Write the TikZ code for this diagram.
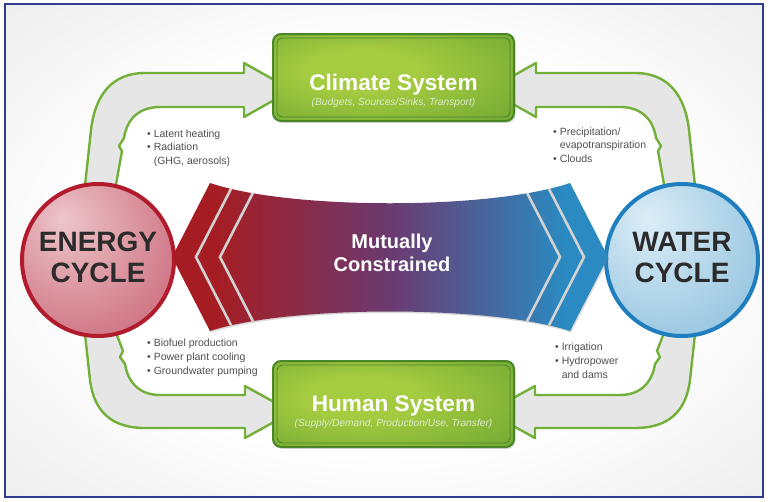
\documentclass[tikz,border=0pt]{standalone}
\usepackage{fontspec}
\setmainfont{Liberation Sans}
\usetikzlibrary{calc,shadows}
\definecolor{framecol}{HTML}{2E3D8F}
\definecolor{bggray}{HTML}{C8C8C8}
\definecolor{bggraytwo}{HTML}{DCDCDC}
\definecolor{arrowgreen}{HTML}{72B03A}
\definecolor{arrowfill}{HTML}{E6E6E6}
\definecolor{boxdark}{HTML}{4A8628}
\definecolor{boxlight}{HTML}{A5CB40}
\definecolor{boxmid}{HTML}{629E30}
\definecolor{redborder}{HTML}{B11B2C}
\definecolor{pinklight}{HTML}{EDC6CA}
\definecolor{pinkdark}{HTML}{C4566A}
\definecolor{blueborder}{HTML}{1F7EBE}
\definecolor{bluelight}{HTML}{DDEEF7}
\definecolor{bluedark}{HTML}{80B8D9}
\definecolor{bandred}{HTML}{A51D23}
\definecolor{bandpurple}{HTML}{6B3A70}
\definecolor{bandblue}{HTML}{2A8AC1}
\definecolor{textgray}{HTML}{2B2B2B}
\definecolor{bullgray}{HTML}{505050}
\definecolor{subwhite}{HTML}{DCEAC8}
\definecolor{sepgray}{HTML}{D2D2D2}
\pgfdeclareradialshading{vignette}{\pgfpoint{0bp}{0bp}}{color(0bp)=(white); color(20bp)=(white); color(52bp)=(bggraytwo); color(71bp)=(bggray)}
\pgfdeclarehorizontalshading{bandshade}{100bp}{color(0bp)=(bandred); color(30bp)=(bandred); color(50bp)=(bandpurple); color(70bp)=(bandblue); color(100bp)=(bandblue)}
\pgfdeclareradialshading{pinkball}{\pgfpoint{-12bp}{14bp}}{color(0bp)=(pinklight); color(48bp)=(pinkdark); color(72bp)=(pinkdark)}
\pgfdeclareradialshading{blueball}{\pgfpoint{-12bp}{14bp}}{color(0bp)=(bluelight); color(48bp)=(bluedark); color(72bp)=(bluedark)}
\pgfdeclareradialshading{boxshade}{\pgfpoint{-8bp}{5bp}}{color(0bp)=(boxlight); color(12bp)=(boxlight); color(48bp)=(boxmid); color(72bp)=(boxdark)}
\begin{document}
\begin{tikzpicture}[x=1pt,y=-1pt,
  arrowshape/.style={fill=arrowfill, draw=arrowgreen, line width=2.4pt, line join=round},
  greenbox/.style={rectangle, rounded corners=8pt, draw=boxdark, line width=2pt, shading=boxshade, inner sep=0pt, drop shadow={opacity=0.25, shadow xshift=1.5pt, shadow yshift=-2pt}},
  insetline/.style={draw=boxdark, line width=0.9pt, rounded corners=5pt},
  cyclecirc/.style={circle, minimum size=152pt, inner sep=0pt, line width=4pt},
  circtext/.style={anchor=base, text=textgray, font=\fontsize{28}{28}\selectfont\bfseries, inner sep=0pt},
  titletext/.style={anchor=base, text=white, font=\fontsize{22.6}{22.6}\selectfont\bfseries, inner sep=0pt},
  subtext/.style={anchor=base, text=subwhite, font=\fontsize{10.2}{10.2}\selectfont\itshape, inner sep=0pt},
  bandtext/.style={anchor=base, text=white, font=\fontsize{20}{20}\selectfont\bfseries, inner sep=0pt},
  bultext/.style={anchor=base west, text=bullgray, font=\fontsize{10.5}{10.5}\selectfont, inner sep=0pt},
  sepline/.style={draw=sepgray, line width=2.6pt, line join=miter}
]
\useasboundingbox (0,0) rectangle (768,501);
\fill[white] (0,0) rectangle (768,501);
\shade[shading=vignette] (5,4) rectangle (763,497);
\draw[framecol, line width=1.5pt] (5,4) rectangle (763,497);

% gray arrows
\draw[arrowshape] (84,195) -- (91,130) .. controls (95,95) and (112,73) .. (145,73) -- (244,73) -- (244,63) -- (292,90) -- (244,117) -- (244,107) -- (160,107) .. controls (140,107) and (127,118) .. (124,138) -- (119,146) -- (122,151) -- (115,190) -- cycle;
\draw[arrowshape] (696,195) -- (689,130) .. controls (685,95) and (668,73) .. (635,73) -- (536,73) -- (536,63) -- (488,90) -- (536,117) -- (536,107) -- (620,107) .. controls (640,107) and (653,118) .. (656,138) -- (661,146) -- (658,151) -- (665,190) -- cycle;
\draw[arrowshape] (84,325) -- (90,380) .. controls (94,412) and (112,428) .. (145,428) -- (245,428) -- (245,438) -- (292,412) -- (245,386) -- (245,395) -- (160,395) .. controls (140,395) and (128,383) .. (125,364) -- (120,357) -- (123,351) -- (115,330) -- cycle;
\draw[arrowshape] (696,325) -- (690,380) .. controls (686,412) and (668,428) .. (635,428) -- (535,428) -- (535,438) -- (488,412) -- (535,386) -- (535,395) -- (620,395) .. controls (640,395) and (652,383) .. (655,364) -- (660,357) -- (657,351) -- (665,330) -- cycle;

% circles
\node[cyclecirc, draw=redborder, shading=pinkball] (energy) at (98,260) {};
\node[cyclecirc, draw=blueborder, shading=blueball] (water) at (682,260) {};
\node[circtext] (energyA) at (98,251) {ENERGY};
\node[circtext] (energyB) at (98,282.4) {CYCLE};
\node[circtext] (waterA) at (682,251) {WATER};
\node[circtext] (waterB) at (682,282.4) {CYCLE};

% boxes
\node[greenbox, minimum width=241pt, minimum height=87pt] (climate) at (393.5,77.5) {};
\draw[insetline] ($(climate.north west)+(5,5)$) rectangle ($(climate.south east)+(-5,-5)$);
\node[titletext] (climateT) at (393.5,90) {Climate System};
\node[subtext] (climateS) at (393.5,105) {(Budgets, Sources/Sinks, Transport)};
\node[greenbox, minimum width=241pt, minimum height=86pt] (human) at (393.5,404) {};
\draw[insetline] ($(human.north west)+(5,5)$) rectangle ($(human.south east)+(-5,-5)$);
\node[titletext] (humanT) at (393.5,411) {Human System};
\node[subtext] (humanS) at (393.5,426) {(Supply/Demand, Production/Use, Transfer)};

% band
\shade[shading=bandshade, drop shadow={opacity=0.3, shadow xshift=1pt, shadow yshift=-1.5pt}] (210,183) .. controls (290,210) and (490,210) .. (570,183) -- (608,257) -- (570,331) .. controls (490,305) and (290,305) .. (210,331) -- (172,257) -- cycle;
\begin{scope}
\clip (210,183) .. controls (290,210) and (490,210) .. (570,183) -- (608,257) -- (570,331) .. controls (490,305) and (290,305) .. (210,331) -- (172,257) -- cycle;
\draw[sepline] (245.8,160) -- (196,257) -- (245.8,354);
\draw[sepline] (269.8,160) -- (220,257) -- (269.8,354);
\draw[sepline] (534.2,160) -- (584,257) -- (534.2,354);
\draw[sepline] (510.2,160) -- (560,257) -- (510.2,354);
\end{scope}
\node[bandtext] (bandA) at (392,248) {Mutually};
\node[bandtext] (bandB) at (392,271) {Constrained};

% bullet texts
\node[bultext] (tl1) at (147,137) {• Latent heating};
\node[bultext] (tl2) at (147,150.5) {• Radiation};
\node[bultext] (tl3) at (147,164) {\hphantom{• }(GHG, aerosols)};
\node[bultext] (tr1) at (553,135) {• Precipitation/};
\node[bultext] (tr2) at (553,148.5) {\hphantom{• }evapotranspiration};
\node[bultext] (tr3) at (553,162) {• Clouds};
\node[bultext] (bl1) at (147,346) {• Biofuel production};
\node[bultext] (bl2) at (147,360) {• Power plant cooling};
\node[bultext] (bl3) at (147,374) {• Groundwater pumping};
\node[bultext] (br1) at (555,350) {• Irrigation};
\node[bultext] (br2) at (555,364) {• Hydropower};
\node[bultext] (br3) at (555,378) {\hphantom{• }and dams};
\end{tikzpicture}
\end{document}
